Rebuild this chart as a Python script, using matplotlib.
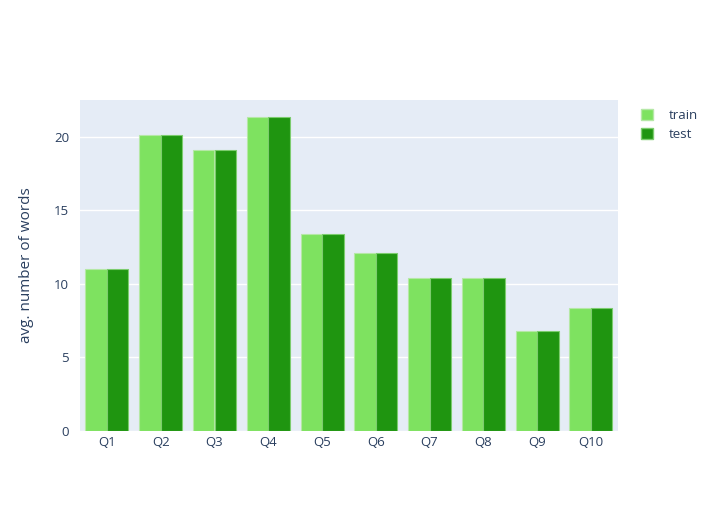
#!/usr/bin/env python3
"""Grouped bar chart: average number of words per question, train vs test."""

import numpy as np
import matplotlib.pyplot as plt
from matplotlib.patches import Patch

plt.rcParams["font.family"] = ["Open Sans", "DejaVu Sans"]

questions = ["Q1", "Q2", "Q3", "Q4", "Q5", "Q6", "Q7", "Q8", "Q9", "Q10"]
train = [10.98, 20.12, 19.14, 21.34, 13.4, 12.07, 10.41, 10.43, 6.76, 8.37]
test = [10.98, 20.12, 19.14, 21.34, 13.4, 12.07, 10.41, 10.43, 6.76, 8.37]

train_color = "#7ee260"
test_color = "#1f9510"
text_color = "#2a3f5f"

fig = plt.figure(figsize=(7.15, 5.11), dpi=100)
ax = fig.add_axes([0.112, 0.157, 0.752, 0.647])
ax.set_facecolor("#e5ecf6")

x = np.arange(len(questions))
w = 0.4
ax.bar(x - w / 2, train, width=w, color=train_color, edgecolor="#b5e8a6", linewidth=0.8)
ax.bar(x + w / 2, test, width=w, color=test_color, edgecolor="#7ccc6e", linewidth=0.8)

ax.set_xlim(-0.5, len(questions) - 0.5)
ax.set_ylim(0, 22.5)
ax.set_yticks([0, 5, 10, 15, 20])
ax.set_xticks(x)
ax.set_xticklabels(questions)
ax.tick_params(axis="both", length=0, colors=text_color, labelsize=9.5)
ax.tick_params(axis="y", pad=8)
ax.tick_params(axis="x", pad=4)
ax.grid(axis="y", color="white", linewidth=1)
ax.set_axisbelow(True)
for s in ax.spines.values():
    s.set_visible(False)

ax.set_ylabel("avg. number of words", fontsize=11, color=text_color, labelpad=14)

handles = [
    Patch(facecolor=train_color, edgecolor="#b5e8a6", label="train"),
    Patch(facecolor=test_color, edgecolor="#7ccc6e", label="test"),
]
leg = fig.legend(
    handles=handles,
    loc="upper left",
    bbox_to_anchor=(0.88, 0.81),
    frameon=False,
    fontsize=9.5,
    handlelength=0.9,
    handleheight=0.9,
    handletextpad=1.2,
    labelspacing=0.45,
)
for t in leg.get_texts():
    t.set_color(text_color)

fig.savefig("out.png", dpi=100)
